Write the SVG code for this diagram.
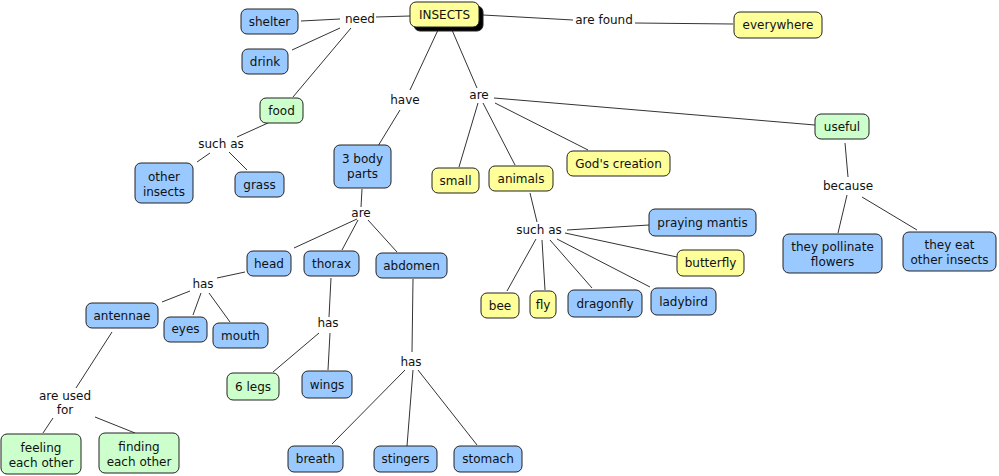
<svg xmlns="http://www.w3.org/2000/svg" width="999" height="476" viewBox="0 0 999 476">
<style>
text{font-family:"DejaVu Sans","Verdana",sans-serif;font-size:12px;fill:#111;text-anchor:middle}
.n rect{stroke:#222;stroke-width:1}
.b rect{fill:#99c9ff}
.y rect{fill:#ffff99}
.g rect{fill:#ccffcc}
#links line{stroke:#333;stroke-width:1}
</style>
<rect width="999" height="476" fill="#fff"/>
<g id="links">
<line x1="376" y1="17" x2="410" y2="16"/>
<line x1="340" y1="19" x2="301" y2="21"/>
<line x1="340" y1="28" x2="292" y2="50"/>
<line x1="351" y1="28" x2="293" y2="97"/>
<line x1="268" y1="123" x2="237" y2="137"/>
<line x1="210" y1="153" x2="197" y2="162"/>
<line x1="229" y1="152" x2="247" y2="170"/>
<line x1="438" y1="30" x2="410" y2="90"/>
<line x1="400" y1="110" x2="378" y2="146"/>
<line x1="452" y1="30" x2="477" y2="88"/>
<line x1="478" y1="103" x2="459" y2="167"/>
<line x1="483" y1="103" x2="515" y2="165"/>
<line x1="495" y1="103" x2="588" y2="150"/>
<line x1="494" y1="98" x2="815" y2="125"/>
<line x1="483" y1="15" x2="573" y2="20"/>
<line x1="635" y1="23" x2="733" y2="24"/>
<line x1="845" y1="143" x2="848" y2="177"/>
<line x1="847" y1="195" x2="838" y2="233"/>
<line x1="862" y1="197" x2="917" y2="230"/>
<line x1="530" y1="193" x2="537" y2="222"/>
<line x1="567" y1="230" x2="649" y2="225"/>
<line x1="565" y1="233" x2="677" y2="257"/>
<line x1="557" y1="239" x2="650" y2="287"/>
<line x1="550" y1="240" x2="592" y2="288"/>
<line x1="542" y1="240" x2="545" y2="290"/>
<line x1="536" y1="239" x2="507" y2="291"/>
<line x1="362" y1="189" x2="361" y2="207"/>
<line x1="357" y1="219" x2="294" y2="248"/>
<line x1="358" y1="220" x2="342" y2="250"/>
<line x1="368" y1="220" x2="397" y2="252"/>
<line x1="245" y1="272" x2="217" y2="278"/>
<line x1="190" y1="291" x2="162" y2="302"/>
<line x1="201" y1="293" x2="193" y2="315"/>
<line x1="209" y1="293" x2="230" y2="322"/>
<line x1="331" y1="278" x2="329" y2="317"/>
<line x1="319" y1="333" x2="273" y2="372"/>
<line x1="330" y1="333" x2="328" y2="370"/>
<line x1="112" y1="332" x2="76" y2="388"/>
<line x1="53" y1="418" x2="43" y2="433"/>
<line x1="95" y1="417" x2="135" y2="433"/>
<line x1="413" y1="279" x2="412" y2="352"/>
<line x1="405" y1="370" x2="332" y2="444"/>
<line x1="413" y1="370" x2="407" y2="446"/>
<line x1="418" y1="370" x2="477" y2="445"/>
</g>
<g id="labels">
<text x="360" y="23">need</text>
<text x="604" y="24">are found</text>
<text x="405" y="104">have</text>
<text x="479" y="99">are</text>
<text x="221" y="148">such as</text>
<text x="848" y="190">because</text>
<text x="539" y="234">such as</text>
<text x="361" y="217">are</text>
<text x="203" y="288">has</text>
<text x="328" y="327">has</text>
<text x="65" y="400">are used</text>
<text x="65" y="414">for</text>
<text x="411" y="366">has</text>
</g>
<g id="insects" class="n y"><rect x="414" y="6" width="69" height="25" rx="6" fill="#000" style="fill:#000"/><rect x="410" y="2" width="69" height="25" rx="6"/><text x="444.5" y="19">INSECTS</text></g>
<g id="everywhere" class="n y"><rect x="734" y="12" width="88" height="26" rx="6"/><text x="778" y="29">everywhere</text></g>
<g id="shelter" class="n b"><rect x="241" y="9" width="57" height="25" rx="6"/><text x="269.5" y="26">shelter</text></g>
<g id="drink" class="n b"><rect x="242" y="49" width="46" height="25" rx="6"/><text x="265" y="66">drink</text></g>
<g id="food" class="n g"><rect x="260" y="98" width="43" height="25" rx="6"/><text x="281.5" y="115">food</text></g>
<g id="other-insects" class="n b"><rect x="135" y="163" width="58" height="40" rx="6"/><text x="164" y="181">other</text><text x="164" y="196">insects</text></g>
<g id="grass" class="n b"><rect x="235" y="172" width="49" height="25" rx="6"/><text x="259.5" y="189">grass</text></g>
<g id="body-parts" class="n b"><rect x="334" y="145" width="57" height="43" rx="6"/><text x="362.5" y="163">3 body</text><text x="362.5" y="178">parts</text></g>
<g id="small" class="n y"><rect x="432" y="168" width="47" height="25" rx="6"/><text x="455.5" y="185">small</text></g>
<g id="animals" class="n y"><rect x="489" y="166" width="64" height="25" rx="6"/><text x="521" y="183">animals</text></g>
<g id="gods-creation" class="n y"><rect x="567" y="151" width="103" height="25" rx="6"/><text x="618.5" y="168">God's creation</text></g>
<g id="useful" class="n g"><rect x="815" y="114" width="54" height="25" rx="6"/><text x="842" y="131">useful</text></g>
<g id="pollinate" class="n b"><rect x="783" y="234" width="99" height="39" rx="6"/><text x="832.5" y="251">they pollinate</text><text x="832.5" y="266">flowers</text></g>
<g id="eat" class="n b"><rect x="903" y="232" width="93" height="39" rx="6"/><text x="949.5" y="249">they eat</text><text x="949.5" y="264">other insects</text></g>
<g id="praying-mantis" class="n b"><rect x="649" y="209" width="107" height="27" rx="6"/><text x="702.5" y="227">praying mantis</text></g>
<g id="butterfly" class="n y"><rect x="677" y="250" width="67" height="26" rx="6"/><text x="710.5" y="267">butterfly</text></g>
<g id="bee" class="n y"><rect x="481" y="293" width="38" height="25" rx="6"/><text x="500" y="310">bee</text></g>
<g id="fly" class="n y"><rect x="530" y="291" width="26" height="27" rx="6"/><text x="543" y="309">fly</text></g>
<g id="dragonfly" class="n b"><rect x="568" y="290" width="74" height="27" rx="6"/><text x="605" y="308">dragonfly</text></g>
<g id="ladybird" class="n b"><rect x="651" y="288" width="65" height="27" rx="6"/><text x="683.5" y="306">ladybird</text></g>
<g id="head" class="n b"><rect x="247" y="251" width="44" height="25" rx="6"/><text x="269" y="268">head</text></g>
<g id="thorax" class="n b"><rect x="304" y="251" width="55" height="25" rx="6"/><text x="331.5" y="268">thorax</text></g>
<g id="abdomen" class="n b"><rect x="376" y="253" width="71" height="25" rx="6"/><text x="411.5" y="270">abdomen</text></g>
<g id="antennae" class="n b"><rect x="86" y="303" width="72" height="25" rx="6"/><text x="122" y="320">antennae</text></g>
<g id="eyes" class="n b"><rect x="164" y="317" width="43" height="25" rx="6"/><text x="185.5" y="333">eyes</text></g>
<g id="mouth" class="n b"><rect x="213" y="323" width="55" height="25" rx="6"/><text x="240.5" y="340">mouth</text></g>
<g id="six-legs" class="n g"><rect x="227" y="373" width="52" height="27" rx="6"/><text x="253" y="391">6 legs</text></g>
<g id="wings" class="n b"><rect x="302" y="371" width="50" height="27" rx="6"/><text x="327" y="389">wings</text></g>
<g id="feeling" class="n g"><rect x="1" y="434" width="80" height="40" rx="6"/><text x="41" y="452">feeling</text><text x="41" y="467">each other</text></g>
<g id="finding" class="n g"><rect x="99" y="433" width="80" height="40" rx="6"/><text x="139" y="451">finding</text><text x="139" y="466">each other</text></g>
<g id="breath" class="n b"><rect x="288" y="446" width="55" height="26" rx="6"/><text x="315.5" y="463">breath</text></g>
<g id="stingers" class="n b"><rect x="374" y="446" width="63" height="26" rx="6"/><text x="405.5" y="463">stingers</text></g>
<g id="stomach" class="n b"><rect x="454" y="446" width="68" height="26" rx="6"/><text x="488" y="463">stomach</text></g>
</svg>
